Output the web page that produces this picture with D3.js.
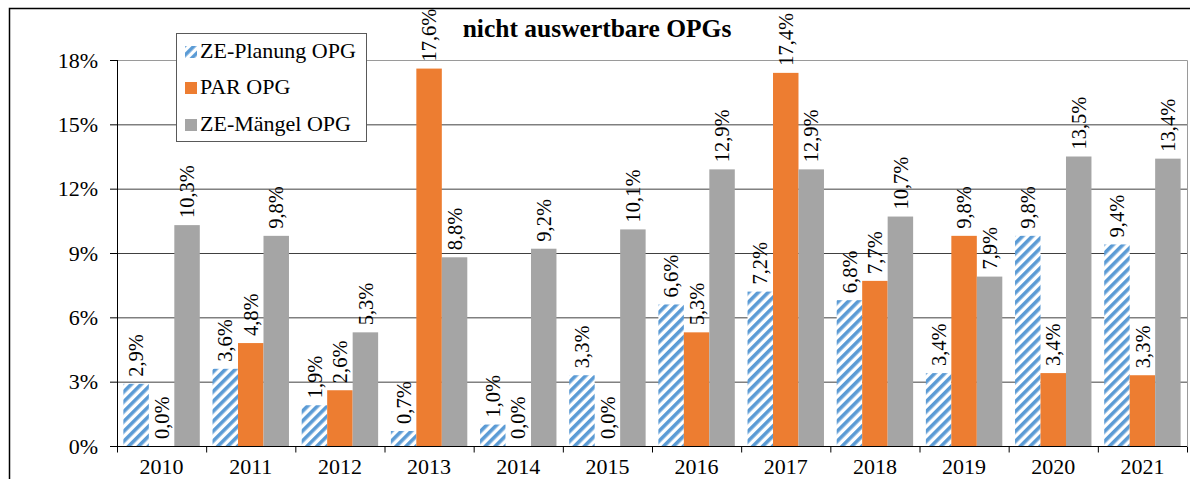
<!DOCTYPE html>
<html>
<head>
<meta charset="utf-8">
<script src="https://cdn.jsdelivr.net/npm/d3@7"></script>
<style>
  body { margin: 0; background: #fff; }
  svg, svg text { font-family: "Liberation Serif", "Tinos", "Times New Roman", "DejaVu Serif", serif !important; }
</style>
</head>
<body>
<svg width="1190" height="479"></svg>
<script>
// Data
const years = ["2010","2011","2012","2013","2014","2015","2016","2017","2018","2019","2020","2021"];
const seriesNames = ["ZE-Planung OPG", "PAR OPG", "ZE-Mängel OPG"];
const planung = [2.9, 3.6, 1.9, 0.7, 1.0, 3.3, 6.6, 7.2, 6.8, 3.4, 9.8, 9.4];
const par     = [0.0, 4.8, 2.6, 17.6, 0.0, 0.0, 5.3, 17.4, 7.7, 9.8, 3.4, 3.3];
const maengel = [10.3, 9.8, 5.3, 8.8, 9.2, 10.1, 12.9, 12.9, 10.7, 7.9, 13.5, 13.4];
const yTicks = [0, 3, 6, 9, 12, 15, 18];

const colors = ["url(#hatch)", "#ed7d31", "#a5a5a5"];
const allSeries = [planung, par, maengel];

// Plot area
const plot = {left: 117, right: 1187, top: 60, bottom: 446};

const svg = d3.select("svg");

// hatch pattern for ZE-Planung
const defs = svg.append("defs");
const pat = defs.append("pattern")
    .attr("id", "hatch")
    .attr("patternUnits", "userSpaceOnUse")
    .attr("width", 7)
    .attr("height", 7)
    .attr("patternTransform", "rotate(45)");
pat.append("rect").attr("width", 7).attr("height", 7).attr("fill", "#fff");
pat.append("rect").attr("width", 3.6).attr("height", 7).attr("fill", "#5b9bd5");

// outer chart border
svg.append("rect")
  .attr("x", 9.5).attr("y", 8.5)
  .attr("width", 1300).attr("height", 600)
  .attr("fill", "none")
  .attr("stroke", "#000")
  .attr("stroke-width", 1.5);

// Scales
const x = d3.scaleBand()
  .domain(years)
  .range([plot.left, plot.right])
  .paddingInner(0).paddingOuter(0);

const x1 = d3.scaleBand()
  .domain(seriesNames)
  .range([0, x.bandwidth()])
  .paddingInner(0)
  .paddingOuter(0.25);

const y = d3.scaleLinear()
  .domain([0, 18])
  .range([plot.bottom, plot.top]);

// Gridlines
svg.append("g")
  .selectAll("line")
  .data(yTicks.filter(d => d > 0))
  .enter()
  .append("line")
    .attr("x1", plot.left).attr("x2", plot.right)
    .attr("y1", d => y(d) + 0.5).attr("y2", d => y(d) + 0.5)
    .attr("stroke", "#404040")
    .attr("stroke-width", 1);

// plot area border (top / right)
svg.append("path")
  .attr("d", `M${plot.left},${plot.top + 0.5}H${plot.right + 0.5}V${plot.bottom}`)
  .attr("fill", "none")
  .attr("stroke", "#9a9a9a")
  .attr("stroke-width", 1);

// Bars
const rows = years.map((yr, i) => ({
  year: yr,
  values: seriesNames.map((s, k) => ({series: s, k: k, value: allSeries[k][i]}))
}));

const groups = svg.append("g")
  .selectAll("g")
  .data(rows)
  .enter()
  .append("g")
    .attr("transform", d => `translate(${x(d.year)},0)`);

groups.selectAll("rect")
  .data(d => d.values)
  .enter()
  .append("rect")
    .attr("x", d => x1(d.series))
    .attr("y", d => y(d.value))
    .attr("width", x1.bandwidth())
    .attr("height", d => y(0) - y(d.value))
    .attr("fill", d => colors[d.k]);

// Value labels (rotated)
groups.selectAll("text")
  .data(d => d.values)
  .enter()
  .append("text")
    .attr("transform", d => `translate(${x1(d.series) + x1.bandwidth() / 2},${y(d.value) - 7}) rotate(-90)`)
    .attr("dy", "0.35em")
    .attr("text-anchor", "start")
    .attr("font-size", 20.5)
    .attr("fill", "#000")
    .text(d => d.value.toFixed(1).replace(".", ",") + "%");

// Y axis
const yAxis = svg.append("g")
  .attr("transform", `translate(${plot.left},0)`)
  .call(d3.axisLeft(y).tickValues(yTicks).tickSize(7).tickPadding(12).tickFormat(d => d + "%"));
yAxis.select(".domain").attr("stroke", "#000").attr("d", `M0.5,${plot.top}V${plot.bottom}`);
yAxis.selectAll(".tick line").attr("stroke", "#000");
yAxis.selectAll(".tick text")
  .attr("font-size", 22)
  .attr("fill", "#000");

// X axis
const xAxis = svg.append("g")
  .attr("transform", `translate(0,${plot.bottom + 0.5})`)
  .call(d3.axisBottom(x).tickSize(0).tickPadding(12));
xAxis.select(".domain").attr("stroke", "#000").attr("d", `M${plot.left},0H${plot.right}`);
xAxis.selectAll(".tick text")
  .attr("font-size", 22)
  .attr("fill", "#000");
// category boundary ticks
xAxis.append("g")
  .selectAll("line")
  .data(years.concat(["end"]))
  .enter()
  .append("line")
    .attr("x1", (d, i) => (i < years.length ? x(d) : plot.right) + 0.5)
    .attr("x2", (d, i) => (i < years.length ? x(d) : plot.right) + 0.5)
    .attr("y1", 0).attr("y2", 6)
    .attr("stroke", "#000");

// Title
svg.append("text")
  .attr("x", 597)
  .attr("y", 37)
  .attr("text-anchor", "middle")
  .attr("font-size", 25.5)
  .attr("font-weight", "bold")
  .text("nicht auswertbare OPGs");

// Legend
const legend = svg.append("g");
legend.append("rect")
  .attr("x", 176.5).attr("y", 33.5)
  .attr("width", 190).attr("height", 108)
  .attr("fill", "#fff")
  .attr("stroke", "#595959");

const legendRows = [58, 94, 131];
const li = legend.selectAll("g.item")
  .data(seriesNames)
  .enter()
  .append("g")
    .attr("class", "item");
li.append("rect")
  .attr("x", 185)
  .attr("y", (d, i) => legendRows[i] - 12)
  .attr("width", 12)
  .attr("height", 12)
  .attr("fill", (d, i) => colors[i]);
li.append("text")
  .attr("x", 200)
  .attr("y", (d, i) => legendRows[i])
  .attr("font-size", 22)
  .text(d => d);
</script>
</body>
</html>
